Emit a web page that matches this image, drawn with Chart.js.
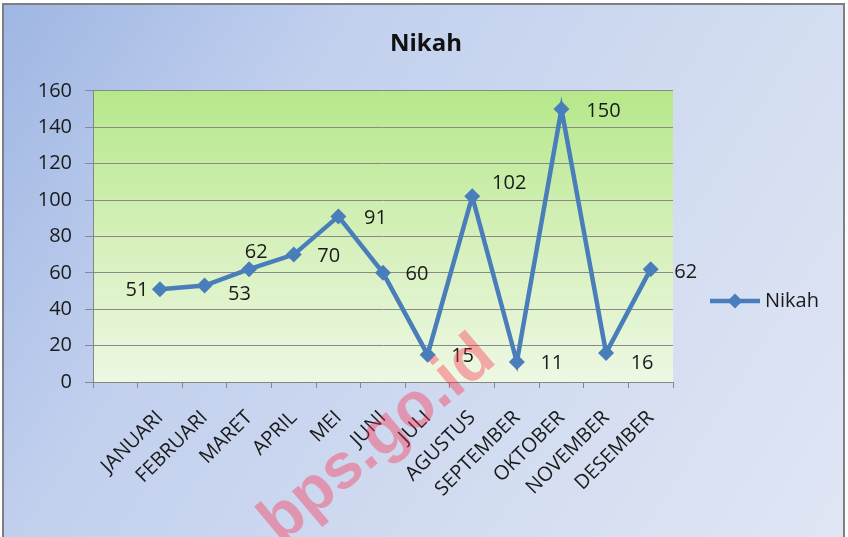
<!DOCTYPE html>
<html>
<head>
<meta charset="utf-8">
<script src="https://cdn.jsdelivr.net/npm/chart.js@4/dist/chart.umd.min.js"></script>
<style>
  html, body { margin: 0; padding: 0; background: #ffffff; }
  #wrap { width: 848px; height: 537px; }
</style>
</head>
<body>
<div id="wrap"><canvas id="c" width="848" height="537"></canvas></div>
<script>
// ---- data ----
const chartTitle = 'Nikah';
const seriesName = 'Nikah';
const categories = ['', 'JANUARI', 'FEBRUARI', 'MARET', 'APRIL', 'MEI', 'JUNI', 'JULI', 'AGUSTUS', 'SEPTEMBER', 'OKTOBER', 'NOVEMBER', 'DESEMBER'];
const values = [null, 51, 53, 62, 70, 91, 60, 15, 102, 11, 150, 16, 62];
const yMin = 0;
const yMax = 160;
const yStep = 20;
const watermarkText = 'bps.go.id';

// ---- label placement (style, not data) ----
const labelDX = [0, -23, 35, 7, 35, 37, 34, 35, 37, 35, 42, 36, 35];
const labelDY = [0, 1, 9, -17, 2, 2, 1, 2, -13, 1, 2, 10, 3];

const FONT = '"Open Sans", "Liberation Sans", sans-serif';
const LINE = '#4a7ebb';
const TXT = '#1a1a1a';

const bgPlugin = {
  id: 'bg',
  beforeDraw(chart) {
    const ctx = chart.ctx;
    const W = chart.width, H = chart.height;
    ctx.save();
    ctx.fillStyle = '#ffffff';
    ctx.fillRect(0, 0, W, H);
    const g = ctx.createLinearGradient(0, 0, W, H);
    g.addColorStop(0, '#9eb6e3');
    g.addColorStop(0.3, '#c2d0ee');
    g.addColorStop(0.7, '#d4def1');
    g.addColorStop(1, '#e0e6f4');
    ctx.fillStyle = g;
    ctx.fillRect(3, 4, 841, H);
    ctx.strokeStyle = '#7f7f7f';
    ctx.lineWidth = 2;
    ctx.strokeRect(3, 4, 841, H + 10);
    const a = chart.chartArea;
    const pg = ctx.createLinearGradient(0, a.top, 0, a.bottom);
    pg.addColorStop(0, '#b6e88a');
    pg.addColorStop(0.5, '#d5f0ba');
    pg.addColorStop(1, '#edf8e3');
    ctx.fillStyle = pg;
    ctx.fillRect(a.left, a.top, a.right - a.left, a.bottom - a.top);
    ctx.restore();
  }
};

const labelPlugin = {
  id: 'dlabels',
  afterDatasetsDraw(chart) {
    const ctx = chart.ctx;
    const meta = chart.getDatasetMeta(0);
    ctx.save();
    ctx.font = '20px ' + FONT;
    ctx.fillStyle = TXT;
    ctx.textAlign = 'center';
    ctx.textBaseline = 'middle';
    meta.data.forEach((pt, i) => {
      const v = values[i];
      if (v === null || v === undefined) return;
      ctx.fillText(String(v), pt.x + labelDX[i], pt.y + labelDY[i]);
    });
    ctx.restore();
  }
};

const legendPlugin = {
  id: 'customLegend',
  afterDraw(chart) {
    const ctx = chart.ctx;
    const y = 301;
    ctx.save();
    ctx.strokeStyle = LINE;
    ctx.lineWidth = 4.5;
    ctx.beginPath();
    ctx.moveTo(710, y);
    ctx.lineTo(760, y);
    ctx.stroke();
    ctx.fillStyle = LINE;
    ctx.beginPath();
    ctx.moveTo(735 - 7.5, y);
    ctx.lineTo(735, y - 7.5);
    ctx.lineTo(735 + 7.5, y);
    ctx.lineTo(735, y + 7.5);
    ctx.closePath();
    ctx.fill();
    ctx.font = '20px ' + FONT;
    ctx.fillStyle = TXT;
    ctx.textAlign = 'left';
    ctx.textBaseline = 'middle';
    ctx.fillText(seriesName, 765, y);
    ctx.restore();
  }
};

const watermarkPlugin = {
  id: 'watermark',
  afterDraw(chart) {
    const ctx = chart.ctx;
    ctx.save();
    ctx.translate(378, 440);
    ctx.rotate(-40 * Math.PI / 180);
    ctx.font = 'bold 64px "Liberation Sans", sans-serif';
    ctx.fillStyle = 'rgba(255, 40, 70, 0.38)';
    ctx.textAlign = 'center';
    ctx.textBaseline = 'middle';
    ctx.fillText(watermarkText, 0, 0);
    ctx.restore();
  }
};

new Chart(document.getElementById('c'), {
  type: 'line',
  data: {
    labels: categories,
    datasets: [{
      label: seriesName,
      data: values,
      borderColor: LINE,
      backgroundColor: LINE,
      borderWidth: 4.5,
      pointStyle: 'rectRot',
      pointRadius: 8,
      pointHoverRadius: 8,
      pointBackgroundColor: LINE,
      pointBorderColor: LINE,
      pointBorderWidth: 0,
      tension: 0,
      spanGaps: false
    }]
  },
  options: {
    responsive: false,
    animation: false,
    devicePixelRatio: 1,
    layout: { padding: { left: 4, top: 4, right: 0, bottom: 5 } },
    plugins: {
      legend: { display: false },
      tooltip: { enabled: false },
      title: {
        display: true,
        text: chartTitle,
        color: '#111111',
        font: { family: FONT, size: 24, weight: 'bold' },
        padding: { top: 26, bottom: 32 }
      }
    },
    scales: {
      x: {
        type: 'category',
        offset: true,
        grid: { offset: true, drawOnChartArea: false, drawTicks: true, tickLength: 6, color: '#868686' },
        border: { color: '#868686', width: 1 },
        ticks: {
          autoSkip: false, minRotation: 45, maxRotation: 45,
          padding: 18, labelOffset: 0,
          color: TXT, font: { family: FONT, size: 20 }
        },
        afterFit(s) { s.height = 150; }
      },
      y: {
        min: yMin, max: yMax,
        ticks: { stepSize: yStep, padding: 13, color: TXT, font: { family: FONT, size: 20 } },
        grid: { color: '#8a8a8a', lineWidth: 1, tickLength: 8, drawTicks: true },
        border: { color: '#868686', width: 1 },
        afterFit(s) { s.width = 89; }
      },
      yR: {
        position: 'right',
        display: true,
        ticks: { display: false },
        grid: { display: false, drawTicks: false },
        border: { display: false },
        afterFit(s) { s.width = 175; }
      }
    }
  },
  plugins: [bgPlugin, labelPlugin, legendPlugin, watermarkPlugin]
});
</script>
</body>
</html>
